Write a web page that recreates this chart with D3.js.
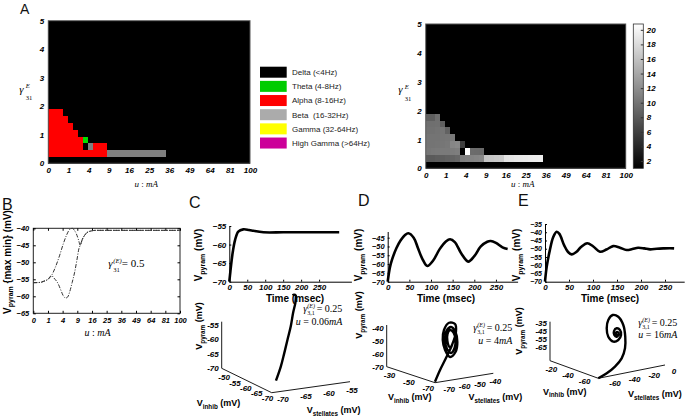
<!DOCTYPE html>
<html><head><meta charset="utf-8">
<script src="https://cdn.jsdelivr.net/npm/d3@7"></script>
<style>body{margin:0;background:#fff;} svg{display:block;} .pre{white-space:pre;}</style>
</head><body>
<script>
// ================= DATA =================
// Panel A : simulation grid, 41 columns over sqrt(u) in [0,10], 21 rows over gamma in [0,5]
const uTicks = [0,1,4,9,16,25,36,49,64,81,100];
const gammaTicks = [0,1,2,3,4,5];
const nCols = 41, nRows = 21;
const bandNames = ["Delta (<4Hz)","Theta (4-8Hz)","Alpha (8-16Hz)","Beta  (16-32Hz)","Gamma (32-64Hz)","High Gamma (>64Hz)"];
const bandColors = ["#000000","#00cc00","#ff0000","#ababab","#ffff00","#cc0099"];
const bandCellColors = ["#000000","#00e000","#ff0000","#808080","#ffff00","#cc0099"];
// dominant band per cell, rows from bottom (gamma index), columns from u=0; missing = 0 (Delta)
const bandRows = [
  [],
  [2,2,2,2,2,2,2,2,2,2,2,2,3,3,3,3,3,3,3,3,3,3,3,3],
  [2,2,2,2,2,2,2,0,3,2,2,2],
  [2,2,2,2,2,2,2,1],
  [2,2,2,2,2,2],
  [2,2,2,2,2],
  [2,2,2,2],
  [2,2,2]
];
// dominant frequency (Hz) per cell, same layout; missing = 0
const freqRows = [
  [],
  [8.0,8.0,8.2,8.3,8.5,8.7,9.0,10.8,11.0,11.2,11.3,11.5,16.2,16.4,16.6,16.8,18.6,18.8,19.0,19.1,19.2,19.3,19.4,19.5],
  [10.2,10.3,10.4,10.5,10.5,10.6,10.8,0,20.8,9.4,9.3,9.2],
  [10.0,10.0,10.1,10.2,10.3,11.4,11.6,5.8],
  [10.0,10.0,10.0,10.1,10.2,10.4],
  [9.8,9.8,9.9,10.0,8.6],
  [9.6,9.6,9.7,8.4],
  [8.4,8.4,9.6]
];
const cbTicks = [2,4,6,8,10,12,14,16,18,20];

// Panel B : max / min of V_pyram versus u (gamma = 0.5)
const bUcommon = [0,0.25,0.49,1,1.54];
const bVcommon = [-56.0,-55.9,-55.6,-55.0,-53.9];
const bUmax = [2.25,3.24,4.2,5.1,6.0,7.0,7.84,8.6,9.5,10.24];
const bVmax = [-51.5,-47.9,-44.5,-42.1,-40.5,-40.0,-40.6,-41.6,-43.4,-45.0];
const bUmin = [1.96,2.86,3.6,4.1,4.9,5.5,6.15,7.0,7.95,8.8,9.67,10.24];
const bVmin = [-54.6,-56.3,-58.4,-59.7,-60.5,-60.2,-58.7,-56.0,-52.9,-49.5,-46.0,-45.0];
const bUtail = [11.2,12.2,13.3,14.7,18.3,25,36,49,64,81,100];
const bVtail = [-43.2,-42.1,-41.3,-40.9,-40.6,-40.6,-40.6,-40.6,-40.6,-40.6,-40.6];
const bYTicks = [-65,-60,-55,-50,-45,-40];

// Panels C, D, E : time series of V_pyram (ms, mV)
const tC = [0,3,6.6,10,16,25,39,55,67,80,95,150,200,250,306];
const vC = [-70,-67.3,-64.2,-61.8,-58.8,-56.5,-55.9,-56.1,-56.3,-56.5,-56.7,-56.7,-56.7,-56.7,-56.7];
const tD = [0,5,10,20,30,40,47.6,60,70,80,91.5,105,120,135,144,155,170,186,200,215,230,238,250,265,277];
const vD = [-70,-62,-57.5,-51,-46.5,-43.5,-42.5,-45,-51,-57,-61.1,-58,-51.5,-47,-45.9,-47.5,-54,-58.6,-55.5,-50,-47.3,-46.9,-48,-50.5,-51.4];
const tE = [0,3.5,10,17,24.4,30,40,48,55.6,65,75,88,100,114.6,128,142,155,170,182,194,207,219,233,247,260,269];
const vE = [-70,-61,-51,-43,-39.7,-41,-48,-52,-53.4,-52,-49,-46.7,-48.5,-51.8,-50.5,-48.4,-49.2,-50.8,-50.2,-49.4,-49.8,-50.4,-50.0,-49.8,-49.7,-49.8];
const timeTicks = [0,50,100,150,200,250];
const cYTicks = [-70,-65,-60,-55];
const dYTicks = [-70,-65,-60,-55,-50,-45];
const eYTicks = [-70,-65,-60,-55,-50,-45,-40,-35];

// Phase portraits [V_stellates, V_inhib, V_pyram] (mV)
const trajC = [[-70.6,-70,-66.5],[-67.65,-66,-63.7],[-66.9,-66,-59.2],[-66.2,-66,-54.7],[-65.5,-66,-50.3],[-65.0,-66,-45.8],[-64.5,-66,-42.4],[-64.4,-66,-40.7],[-64.4,-66,-39.9],[-64.8,-66,-39.5],[-65.1,-66,-39.7]];
const trajD = [[-78,-75,-69.2],[-70.3,-68,-63.3],[-61.4,-60,-57.7],[-53.7,-54,-50.5],[-48.6,-50,-42.3],[-49.2,-50,-35.9],[-53.1,-50,-34.2],[-56.4,-50,-39.2],[-57.2,-50,-46.9],[-55.7,-50,-55.0],[-52.5,-50,-61.1],[-48.9,-50,-57.9],[-47.7,-50,-50.3],[-48.9,-50,-42.3],[-51.8,-50,-37.8],[-54.8,-50,-40.3],[-55.7,-50,-47.2],[-54.4,-50,-54.5],[-51.8,-50,-58.1],[-49.5,-50,-54.6],[-48.9,-50,-48.5],[-50.2,-50,-42.4],[-52.5,-50,-40.0],[-54.1,-50,-42.8],[-54.2,-50,-48.3],[-52.8,-50,-53.2],[-51.2,-50,-52.7]];
const trajE = [[-75,-74,-82.5],[-61.3,-68,-81.9],[-47.8,-62,-79.1],[-35.9,-56,-74.0],[-27.4,-50,-65.75],[-22.9,-45,-54.25],[-24.9,-45,-39.1],[-30.0,-45,-27.5],[-35.7,-45,-24.0],[-40.2,-45,-29.1],[-41.8,-45,-39.1],[-40.2,-45,-50.0],[-35.1,-45,-57.5],[-30.0,-45,-56.6],[-27.2,-45,-51.1],[-28.3,-45,-44.6],[-31.6,-45,-41.6],[-34.4,-45,-44.4],[-34.1,-45,-49.4],[-31.6,-45,-52.1],[-29.6,-45,-49.6],[-30.6,-45,-46.5],[-32.3,-45,-47.0],[-32.0,-45,-49.5],[-31.0,-45,-48.9]];
const c3Ticks = {p:[-70,-65,-60,-55], i:[-50,-55,-60,-65,-70], s:[-70,-65,-60,-55]};
const d3Ticks = {p:[-70,-60,-50,-40], i:[-30,-50,-70], s:[-70,-60,-50,-40]};
const e3Ticks = {p:[-65,-55,-45,-35], i:[-20,-40,-60], s:[-60,-40,-20,0]};

// ================= DRAWING =================
const FONT = 'Arial, "Liberation Sans", Helvetica, sans-serif';
const SERIF = '"Times New Roman", "Liberation Serif", serif';
const svg = d3.select("body").append("svg").attr("width",689).attr("height",416)
  .attr("font-family",FONT);

function tickText(sel, size){
  sel.selectAll("text").attr("font-size",size).attr("font-weight","bold")
    .attr("font-style","italic").attr("font-family",FONT).attr("fill","#000");
}
function panelLetter(x,y,s,size){
  svg.append("text").attr("x",x).attr("y",y).attr("font-size",size).attr("fill","#111").text(s);
}
function subLabel(g, x, y, main, sub, tail, size, rotate, anchor){
  const t = g.append("text").attr("font-family",FONT).attr("font-weight","bold").attr("font-size",size)
    .attr("text-anchor",anchor||"middle")
    .attr("transform",`translate(${x},${y})`+(rotate?" rotate(-90)":""));
  t.append("tspan").text(main);
  t.append("tspan").attr("font-size",size*0.7).attr("dy",size*0.28).text(sub);
  t.append("tspan").attr("dy",-size*0.28).text(tail);
  return t;
}
// gamma symbol with stacked super- and subscript, as one text element
function gammaSym(g, x, y, sup, sub, tail, fs, o){
  const t = g.append("text").attr("x",x).attr("y",y).attr("font-family",SERIF).attr("font-size",fs);
  t.append("tspan").attr("font-style","italic").text("γ");
  t.append("tspan").attr("x",x+o.sx).attr("dy",o.supDy).attr("font-style","italic").attr("font-size",fs*0.6).text(sup);
  t.append("tspan").attr("x",x+o.sx).attr("dy",o.subDy-o.supDy).attr("font-size",fs*0.6).text(sub);
  if(tail) return t.append("tspan").attr("x",x+o.tx).attr("dy",-o.subDy).text(tail);
}
function uLabel(g, x, y, anchor, fs){
  const t = g.append("text").attr("x",x).attr("y",y).attr("text-anchor",anchor).attr("font-family",SERIF)
    .attr("font-size",fs);
  t.append("tspan").attr("font-style","italic").text("u");
  t.append("tspan").text(" : ");
  t.append("tspan").attr("font-style","italic").text("mA");
}

// ---------- Panel A ----------
panelLetter(20,13.5,"A",14);
function heatmap(cfg){
  const g = svg.append("g");
  const xs = d3.scaleSqrt().domain([0,100]).range([cfg.x0,cfg.x1]);
  const ys = d3.scaleLinear().domain([0,5]).range([cfg.y0,cfg.y1]);
  const colB = d3.scaleBand().domain(d3.range(nCols)).range([cfg.x0,cfg.x1]);
  const rowB = d3.scaleBand().domain(d3.range(nRows)).range([cfg.y0,cfg.y1]);
  const cells = [];
  for(let j=0;j<nRows;j++) for(let i=0;i<nCols;i++) cells.push({i,j,v:cfg.value(j,i)});
  g.selectAll("rect.cell").data(cells).join("rect").attr("class","cell")
    .attr("x",d=>colB(d.i)).attr("y",d=>rowB(d.j))
    .attr("width",colB.bandwidth()+0.4).attr("height",rowB.bandwidth()+0.4)
    .attr("fill",d=>cfg.color(d.v)).attr("shape-rendering","crispEdges");
  g.append("rect").attr("x",cfg.x0).attr("y",cfg.y1).attr("width",cfg.x1-cfg.x0).attr("height",cfg.y0-cfg.y1)
    .attr("fill","none").attr("stroke","#555").attr("stroke-width",1);
  const ax = g.append("g").attr("transform",`translate(0,${cfg.y0})`)
    .call(d3.axisBottom(xs).tickValues(uTicks).tickFormat(d3.format("d")).tickSize(0).tickPadding(4));
  ax.select(".domain").remove(); tickText(ax,8);
  const ay = g.append("g").attr("transform",`translate(${cfg.x0},0)`)
    .call(d3.axisLeft(ys).tickValues(gammaTicks).tickFormat(d3.format("d")).tickSize(0).tickPadding(4));
  ay.select(".domain").remove(); tickText(ay,8);
  gammaSym(g, cfg.gx, cfg.gy, "E", "31", null, 11, {sx:6.5,supDy:-4.5,subDy:7.5});
  uLabel(g, (cfg.x0+cfg.x1)/2-3, 187, "middle", 9);
}
heatmap({x0:48.3,x1:250,y0:163.3,y1:20.7,gx:19.3,gy:92.5,
  value:(j,i)=>(bandRows[j]||[])[i]||0, color:v=>bandCellColors[v]});

// legend
const lg = svg.append("g");
const ly = d3.scaleBand().domain(d3.range(bandNames.length)).range([66.7,151.7]);
lg.selectAll("rect").data(bandNames).join("rect").attr("x",260).attr("y",(d,i)=>ly(i))
  .attr("width",26.7).attr("height",11).attr("fill",(d,i)=>bandColors[i]);
lg.selectAll("text").data(bandNames).join("text").attr("class","pre").attr("x",292).attr("y",(d,i)=>ly(i)+5.5)
  .attr("dy","0.35em").attr("font-size",8).attr("fill","#222").text(d=>d);

// right heatmap (frequency, grey scale)
const grey = d3.scaleLinear().domain([1,20.8]).range(["#000000","#ffffff"]).clamp(true);
heatmap({x0:425.7,x1:625.7,y0:168.3,y1:24,gx:398.3,gy:93,
  value:(j,i)=>(freqRows[j]||[])[i]||0, color:v=>grey(v)});
// colorbar
const defs = svg.append("defs");
const grad = defs.append("linearGradient").attr("id","cbg").attr("x1",0).attr("x2",0).attr("y1",1).attr("y2",0);
grad.selectAll("stop").data(grey.domain()).join("stop").attr("offset",(d,i)=>i)
  .attr("stop-color",d=>grey(d));
const cbY = d3.scaleLinear().domain(grey.domain()).range([168.3,24]);
svg.append("rect").attr("x",633.3).attr("y",24).attr("width",10).attr("height",144.3)
  .attr("fill","url(#cbg)").attr("stroke","#333").attr("stroke-width",0.8);
const cba = svg.append("g").attr("transform","translate(643.3,0)")
  .call(d3.axisRight(cbY).tickValues(cbTicks).tickSizeInner(-2.5).tickSizeOuter(0).tickPadding(3.5));
cba.select(".domain").remove(); cba.selectAll("line").attr("stroke","#333"); tickText(cba,8);

// ---------- Panel B ----------
panelLetter(2,210,"B",16);
{
  const g = svg.append("g");
  const x = d3.scaleSqrt().domain([0,100]).range([33.3,180]);
  const y = d3.scaleLinear().domain([-65,-40]).range([313.3,228.3]);
  g.append("rect").attr("x",33.3).attr("y",228.3).attr("width",146.7).attr("height",85)
    .attr("fill","none").attr("stroke","#222").attr("stroke-width",1);
  const ax = g.append("g").attr("transform","translate(0,313.3)")
    .call(d3.axisBottom(x).tickValues(uTicks).tickFormat(d3.format("d")).tickSizeInner(-2.5).tickSizeOuter(0).tickPadding(4));
  ax.select(".domain").remove(); tickText(ax,7.5);
  const ay = g.append("g").attr("transform","translate(33.3,0)")
    .call(d3.axisLeft(y).tickValues(bYTicks).tickSizeInner(-2.5).tickSizeOuter(0).tickPadding(4));
  ay.select(".domain").remove(); tickText(ay,7.5);
  const at = g.append("g").attr("transform","translate(0,228.3)")
    .call(d3.axisTop(x).tickValues(uTicks).tickFormat("").tickSizeInner(-2.5).tickSizeOuter(0));
  at.select(".domain").remove();
  const ar = g.append("g").attr("transform","translate(180,0)")
    .call(d3.axisRight(y).tickValues(bYTicks).tickFormat("").tickSizeInner(-2.5).tickSizeOuter(0));
  ar.select(".domain").remove();
  const line = d3.line().x(d=>x(d[0])).y(d=>y(d[1])).curve(d3.curveMonotoneX);
  const zipUV = (u,v)=>u.map((d,i)=>[d,v[i]]);
  const maxC = zipUV(bUcommon,bVcommon).concat(zipUV(bUmax,bVmax), zipUV(bUtail,bVtail));
  const minC = zipUV(bUcommon,bVcommon).concat(zipUV(bUmin,bVmin), zipUV(bUtail,bVtail));
  g.selectAll("path.bc").data([maxC,minC]).join("path").attr("class","bc").attr("d",line)
    .attr("fill","none").attr("stroke","#333").attr("stroke-width",1).attr("stroke-dasharray","4,1.5,1,1.5");
  gammaSym(g,108.3,266.5,"(E)","31","= 0.5",11,{sx:5,supDy:-4,subDy:5.5,tx:13.4});
  subLabel(g,10.5,262,"V","pyram"," {max min} (mV)",10,true);
  uLabel(g,97.5,336,"middle",10);
}

// ---------- Time series C, D, E ----------
function timePlot(cfg){
  const g = svg.append("g");
  const x = d3.scaleLinear().domain([0,cfg.tmax]).range([cfg.x0,cfg.x1]);
  const y = d3.scaleLinear().domain(cfg.ydom).range([281.7,cfg.ytop]);
  const ax = g.append("g").attr("transform","translate(0,281.7)")
    .call(d3.axisBottom(x).tickValues(timeTicks).tickSizeInner(-2).tickSizeOuter(0).tickPadding(3));
  ax.select(".domain").attr("stroke","#000"); tickText(ax,8);
  const ay = g.append("g").attr("transform",`translate(${cfg.x0},0)`)
    .call(d3.axisLeft(y).tickValues(cfg.yticks).tickSizeInner(-2).tickSizeOuter(0).tickPadding(3));
  ay.select(".domain").attr("stroke","#000"); tickText(ay,cfg.yfs||8);
  g.append("path").datum(cfg.t.map((d,i)=>[d,cfg.v[i]]))
    .attr("d",d3.line().x(d=>x(d[0])).y(d=>y(d[1])).curve(d3.curveCatmullRom.alpha(0.5)))
    .attr("fill","none").attr("stroke","#000").attr("stroke-width",2.6).attr("stroke-linejoin","round");
  g.append("text").attr("x",cfg.lx).attr("y",301.5).attr("text-anchor","middle").attr("font-weight","bold")
    .attr("font-size",10).text("Time (msec)");
  subLabel(g,cfg.vx,255,"V","pyram"," (mV)",10,true);
}
panelLetter(189,208,"C",16);
panelLetter(358,206,"D",16);
panelLetter(518,206,"E",16);
timePlot({x0:229.3,x1:351.4,tmax:340,ydom:[-70,-55],ytop:226,yticks:cYTicks,t:tC,v:vC,lx:295,vx:202});
timePlot({x0:387.7,x1:517.6,tmax:300,ydom:[-70,-41.5],ytop:231.5,yticks:dYTicks,t:tD,v:vD,lx:446,vx:362,yfs:7.5});
timePlot({x0:545,x1:684.2,tmax:290,ydom:[-70,-35],ytop:224,yticks:eYTicks,t:tE,v:vE,lx:610,vx:520,yfs:7});

// ---------- 3-D phase portraits ----------
function phase3d(cfg){
  const g = svg.append("g");
  const A=cfg.A, B=cfg.B, C=cfg.C;
  const iS = d3.scaleLinear().domain(cfg.idom).range([0,1]);   // A -> B
  const sS = d3.scaleLinear().domain(cfg.sdom).range([0,1]);   // B -> C
  const pS = d3.scaleLinear().domain(cfg.pdom).range([0,A[1]-cfg.top]);
  const proj = (vs,vi,vp)=>{
    const ti=iS(vi), ts=sS(vs);
    return [A[0]+ti*(B[0]-A[0])+ts*(C[0]-B[0]), A[1]+ti*(B[1]-A[1])+ts*(C[1]-B[1])-pS(vp)];
  };
  const axes = [[A,[A[0],cfg.top]],[A,B],[B,C]];
  g.selectAll("line.ax").data(axes).join("line").attr("class","ax")
    .attr("x1",d=>d[0][0]).attr("y1",d=>d[0][1]).attr("x2",d=>d[1][0]).attr("y2",d=>d[1][1])
    .attr("stroke","#000").attr("stroke-width",0.9);
  const lab = (sel)=>sel.attr("font-size",8).attr("font-weight","bold").attr("font-style","italic");
  g.selectAll("text.tp").data(cfg.ticks.p).join("text").attr("class","tp").call(lab)
    .attr("x",A[0]-3).attr("y",d=>A[1]-pS(d)).attr("dy","0.35em").attr("text-anchor","end").text(d=>d);
  g.selectAll("text.ti").data(cfg.ticks.i).join("text").attr("class","ti").call(lab)
    .attr("x",d=>A[0]+iS(d)*(B[0]-A[0])-2).attr("y",d=>A[1]+iS(d)*(B[1]-A[1])+7)
    .attr("dy","0.35em").attr("text-anchor","middle").text(d=>d);
  g.selectAll("text.ts").data(cfg.ticks.s).join("text").attr("class","ts").call(lab)
    .attr("x",d=>B[0]+sS(d)*(C[0]-B[0])+2).attr("y",d=>B[1]+sS(d)*(C[1]-B[1])+8)
    .attr("dy","0.35em").attr("text-anchor","middle").text(d=>d);
  g.append("path").datum(cfg.traj.map(d=>proj(d[0],d[1],d[2])))
    .attr("d",d3.line().curve(d3.curveCatmullRom.alpha(0.5)))
    .attr("fill","none").attr("stroke","#000").attr("stroke-width",2.4).attr("stroke-linejoin","round");
  subLabel(g,cfg.vx,cfg.vy,"V","pyram"," (mV)",9,true);
  subLabel(g,cfg.ix,cfg.iy,"V","inhib"," (mV)",9,false,"start");
  subLabel(g,cfg.sx,cfg.sy,"V","stellates"," (mV)",9,false,"start");
  const tail = gammaSym(g,cfg.gx,cfg.gy,"(E)","3,1","= 0.25",10,{sx:4,supDy:-3.8,subDy:3,tx:13.4});
  const endX = cfg.gx + 13.4 + tail.node().getComputedTextLength();
  const u = g.append("text").attr("x",endX).attr("y",cfg.gy+12.5).attr("text-anchor","end")
    .attr("font-family",SERIF).attr("font-size",10);
  u.append("tspan").attr("font-style","italic").text("u");
  u.append("tspan").text(" = "+cfg.u);
  u.append("tspan").attr("font-style","italic").text("mA");
}
phase3d({A:[221.7,368.3],B:[271.7,392.7],C:[350,381.7],top:321.7,
  idom:[-48,-71],sdom:[-72,-55],pdom:[-70,-53.86],ticks:c3Ticks,traj:trajC,
  vx:202,vy:326,ix:196.7,iy:406,sx:306.7,sy:413,gx:303.3,gy:312,u:"0.06"});
phase3d({A:[386.7,366.7],B:[435,382.7],C:[493.3,373.3],top:325,
  idom:[-25,-75],sdom:[-78,-40],pdom:[-70,-37.4],ticks:d3Ticks,traj:trajD,
  vx:362,vy:315,ix:388,iy:400,sx:468.5,sy:400,gx:473.3,gy:331,u:"4"});
phase3d({A:[550,360.7],B:[598.3,378.3],C:[665,365],top:321.7,
  idom:[-16,-74],sdom:[-75,-7],pdom:[-82.5,-33.75],ticks:e3Ticks,traj:trajE,
  vx:522,vy:331,ix:543,iy:394.5,sx:628,sy:397,gx:638.3,gy:325.5,u:"16"});
</script>
</body></html>
